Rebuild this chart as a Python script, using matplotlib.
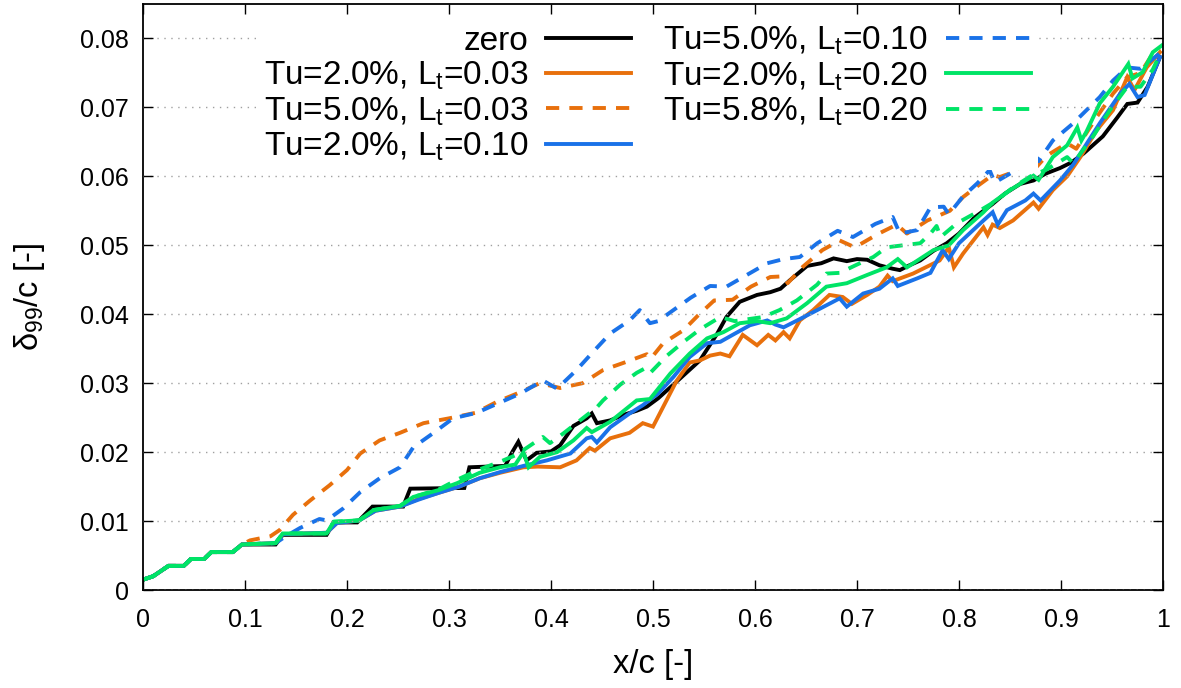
import matplotlib
matplotlib.use("Agg")
import matplotlib.pyplot as plt
import numpy as np

plt.rcParams['font.family'] = ['Liberation Sans', 'DejaVu Sans']
plt.rcParams['mathtext.fontset'] = 'custom'
plt.rcParams['mathtext.rm'] = 'Liberation Sans'
plt.rcParams['mathtext.it'] = 'Liberation Sans'
plt.rcParams['mathtext.bf'] = 'Liberation Sans:bold'

# ---------------- data ----------------
lead_x = [0.000, 0.010, 0.025, 0.040, 0.047, 0.060, 0.067, 0.088, 0.097]
lead_y = [0.0015, 0.0020, 0.0035, 0.0035, 0.0045, 0.0045, 0.0055, 0.0055, 0.0066]

zero_x = [0.130, 0.137, 0.180, 0.187, 0.210, 0.225, 0.255, 0.262, 0.315, 0.320,
          0.355, 0.362, 0.368, 0.376, 0.386, 0.400, 0.409, 0.422, 0.435, 0.440,
          0.445, 0.458, 0.471, 0.484, 0.494, 0.505, 0.523, 0.546, 0.563, 0.572,
          0.585, 0.602, 0.615, 0.625, 0.634, 0.651, 0.665, 0.677, 0.690, 0.700,
          0.710, 0.722, 0.735, 0.742, 0.750, 0.762, 0.775, 0.788, 0.800, 0.815,
          0.833, 0.845, 0.860, 0.873, 0.885, 0.899, 0.910, 0.922, 0.941, 0.955,
          0.965, 0.975, 0.985, 0.997]
zero_y = [0.0066, 0.0080, 0.0080, 0.0098, 0.0098, 0.0121, 0.0121, 0.0147, 0.0148, 0.0178,
          0.0180, 0.0200, 0.0215, 0.0188, 0.0199, 0.0201, 0.0210, 0.0238, 0.0249, 0.0256,
          0.0242, 0.0246, 0.0254, 0.0260, 0.0266, 0.0278, 0.0302, 0.0333, 0.0372, 0.0396,
          0.0418, 0.0428, 0.0432, 0.0437, 0.0449, 0.0470, 0.0474, 0.0481, 0.0477, 0.0480,
          0.0479, 0.0471, 0.0466, 0.0464, 0.0470, 0.0478, 0.0492, 0.0503, 0.0517, 0.0540,
          0.0560, 0.0575, 0.0589, 0.0594, 0.0604, 0.0612, 0.0620, 0.0633, 0.0658, 0.0685,
          0.0705, 0.0707, 0.0730, 0.0773]

tu2_lt003_x = [0.130, 0.137, 0.180, 0.190, 0.212, 0.228, 0.252, 0.270, 0.290, 0.310,
               0.330, 0.350, 0.373, 0.387, 0.409, 0.425, 0.438, 0.443, 0.458, 0.477,
               0.490, 0.500, 0.523, 0.536, 0.546, 0.556, 0.566, 0.575, 0.588, 0.602,
               0.613, 0.620, 0.628, 0.634, 0.644, 0.657, 0.673, 0.686, 0.695, 0.710,
               0.722, 0.730, 0.735, 0.755, 0.781, 0.790, 0.795, 0.804, 0.824, 0.828,
               0.833, 0.840, 0.853, 0.873, 0.878, 0.892, 0.906, 0.919, 0.935, 0.951,
               0.965, 0.972, 0.984, 0.997]
tu2_lt003_y = [0.0068, 0.0081, 0.0083, 0.0097, 0.0101, 0.0115, 0.0121, 0.0132, 0.0141, 0.0150,
               0.0162, 0.0170, 0.0178, 0.0179, 0.0178, 0.0188, 0.0206, 0.0202, 0.0220, 0.0228,
               0.0242, 0.0237, 0.0303, 0.0330, 0.0333, 0.0340, 0.0343, 0.0339, 0.0370, 0.0355,
               0.0370, 0.0362, 0.0374, 0.0365, 0.0391, 0.0406, 0.0428, 0.0425, 0.0415, 0.0428,
               0.0440, 0.0456, 0.0448, 0.0459, 0.0478, 0.0497, 0.0468, 0.0488, 0.0526, 0.0515,
               0.0530, 0.0525, 0.0536, 0.0562, 0.0553, 0.0580, 0.0600, 0.0628, 0.0667, 0.0696,
               0.0744, 0.0725, 0.0758, 0.0780]

tu5_lt003_x = [0.105, 0.125, 0.134, 0.147, 0.164, 0.183, 0.200, 0.213, 0.232, 0.252,
               0.275, 0.300, 0.326, 0.347, 0.370, 0.389, 0.409, 0.431, 0.451, 0.474,
               0.494, 0.498, 0.510, 0.530, 0.544, 0.560, 0.578, 0.596, 0.615, 0.628,
               0.632, 0.647, 0.666, 0.683, 0.698, 0.720, 0.739, 0.749, 0.769, 0.791,
               0.804, 0.820, 0.833, 0.840, 0.853, 0.870, 0.875, 0.886, 0.906, 0.915,
               0.935, 0.951, 0.965, 0.978, 0.990, 0.998]
tu5_lt003_y = [0.0072, 0.0078, 0.0087, 0.0109, 0.0130, 0.0152, 0.0174, 0.0198, 0.0217, 0.0228,
               0.0242, 0.0249, 0.0257, 0.0273, 0.0287, 0.0300, 0.0293, 0.0300, 0.0319, 0.0331,
               0.0342, 0.0336, 0.0358, 0.0377, 0.0398, 0.0420, 0.0421, 0.0440, 0.0454, 0.0455,
               0.0445, 0.0469, 0.0493, 0.0507, 0.0497, 0.0516, 0.0530, 0.0517, 0.0536, 0.0550,
               0.0570, 0.0588, 0.0602, 0.0599, 0.0606, 0.0625, 0.0612, 0.0630, 0.0648, 0.0640,
               0.0686, 0.0720, 0.0744, 0.0750, 0.0778, 0.0782]

tu2_lt010_x = [0.130, 0.137, 0.180, 0.190, 0.212, 0.228, 0.252, 0.270, 0.290, 0.310,
               0.330, 0.350, 0.373, 0.396, 0.419, 0.435, 0.440, 0.445, 0.458, 0.477,
               0.490, 0.505, 0.520, 0.536, 0.553, 0.566, 0.578, 0.595, 0.612, 0.620,
               0.628, 0.644, 0.661, 0.683, 0.690, 0.706, 0.722, 0.735, 0.740, 0.759,
               0.772, 0.784, 0.790, 0.800, 0.824, 0.833, 0.838, 0.847, 0.865, 0.873,
               0.880, 0.899, 0.912, 0.919, 0.938, 0.958, 0.967, 0.975, 0.982, 0.997]
tu2_lt010_y = [0.0068, 0.0081, 0.0083, 0.0097, 0.0101, 0.0115, 0.0121, 0.0131, 0.0141, 0.0150,
               0.0162, 0.0171, 0.0180, 0.0188, 0.0198, 0.0220, 0.0222, 0.0214, 0.0236, 0.0256,
               0.0268, 0.0285, 0.0309, 0.0338, 0.0358, 0.0360, 0.0370, 0.0384, 0.0391, 0.0385,
               0.0381, 0.0393, 0.0406, 0.0423, 0.0411, 0.0430, 0.0437, 0.0452, 0.0441, 0.0452,
               0.0460, 0.0493, 0.0480, 0.0503, 0.0536, 0.0548, 0.0530, 0.0551, 0.0565, 0.0575,
               0.0565, 0.0594, 0.0617, 0.0633, 0.0677, 0.0720, 0.0734, 0.0715, 0.0718, 0.0773]

tu5_lt010_x = [0.130, 0.140, 0.154, 0.173, 0.180, 0.196, 0.213, 0.232, 0.252, 0.265,
               0.284, 0.304, 0.327, 0.347, 0.370, 0.392, 0.406, 0.425, 0.441, 0.458,
               0.477, 0.487, 0.497, 0.505, 0.520, 0.537, 0.556, 0.572, 0.592, 0.612,
               0.628, 0.644, 0.661, 0.681, 0.696, 0.718, 0.735, 0.742, 0.759, 0.772,
               0.785, 0.790, 0.804, 0.818, 0.830, 0.835, 0.857, 0.873, 0.878, 0.892,
               0.912, 0.938, 0.951, 0.965, 0.978, 0.998]
tu5_lt010_y = [0.0068, 0.0078, 0.0090, 0.0103, 0.0101, 0.0118, 0.0142, 0.0162, 0.0178, 0.0207,
               0.0227, 0.0249, 0.0257, 0.0270, 0.0285, 0.0304, 0.0292, 0.0319, 0.0345, 0.0372,
               0.0391, 0.0406, 0.0387, 0.0390, 0.0406, 0.0424, 0.0441, 0.0440, 0.0457, 0.0474,
               0.0480, 0.0483, 0.0503, 0.0521, 0.0512, 0.0531, 0.0541, 0.0517, 0.0522, 0.0555,
               0.0556, 0.0545, 0.0571, 0.0590, 0.0609, 0.0591, 0.0610, 0.0636, 0.0622, 0.0652,
               0.0677, 0.0715, 0.0739, 0.0758, 0.0756, 0.0780]

tu2_lt020_x = [0.130, 0.137, 0.180, 0.187, 0.212, 0.226, 0.252, 0.265, 0.290, 0.308,
               0.330, 0.350, 0.365, 0.373, 0.378, 0.389, 0.406, 0.422, 0.435, 0.440,
               0.458, 0.484, 0.497, 0.517, 0.536, 0.553, 0.569, 0.585, 0.602, 0.615,
               0.631, 0.651, 0.670, 0.690, 0.710, 0.729, 0.740, 0.749, 0.775, 0.790,
               0.804, 0.824, 0.833, 0.850, 0.873, 0.878, 0.892, 0.906, 0.916, 0.920,
               0.925, 0.938, 0.951, 0.966, 0.970, 0.980, 0.990, 0.999]
tu2_lt020_y = [0.0068, 0.0082, 0.0082, 0.0099, 0.0101, 0.0116, 0.0122, 0.0135, 0.0145, 0.0155,
               0.0170, 0.0178, 0.0182, 0.0200, 0.0178, 0.0193, 0.0200, 0.0217, 0.0235, 0.0229,
               0.0244, 0.0275, 0.0277, 0.0314, 0.0343, 0.0365, 0.0374, 0.0387, 0.0390, 0.0387,
               0.0394, 0.0416, 0.0440, 0.0445, 0.0457, 0.0468, 0.0480, 0.0468, 0.0493, 0.0500,
               0.0522, 0.0548, 0.0562, 0.0580, 0.0601, 0.0595, 0.0628, 0.0645, 0.0671, 0.0652,
               0.0665, 0.0706, 0.0730, 0.0763, 0.0742, 0.0751, 0.0780, 0.0790]

tu58_lt020_x = [0.130, 0.137, 0.180, 0.187, 0.212, 0.226, 0.252, 0.265, 0.290, 0.308,
                0.330, 0.350, 0.366, 0.376, 0.392, 0.399, 0.412, 0.425, 0.445, 0.451,
                0.468, 0.484, 0.494, 0.498, 0.513, 0.530, 0.546, 0.566, 0.580, 0.608,
                0.624, 0.641, 0.661, 0.670, 0.683, 0.700, 0.716, 0.729, 0.745, 0.762,
                0.772, 0.778, 0.782, 0.798, 0.820, 0.837, 0.853, 0.870, 0.886, 0.906,
                0.912, 0.931, 0.948, 0.965, 0.978, 0.990, 0.998]
tu58_lt020_y = [0.0068, 0.0082, 0.0082, 0.0099, 0.0101, 0.0116, 0.0122, 0.0135, 0.0146, 0.0160,
                0.0175, 0.0186, 0.0196, 0.0206, 0.0222, 0.0213, 0.0227, 0.0242, 0.0265, 0.0275,
                0.0298, 0.0315, 0.0323, 0.0316, 0.0339, 0.0360, 0.0378, 0.0396, 0.0390, 0.0396,
                0.0406, 0.0420, 0.0443, 0.0459, 0.0460, 0.0472, 0.0483, 0.0497, 0.0500, 0.0503,
                0.0517, 0.0528, 0.0512, 0.0532, 0.0550, 0.0565, 0.0584, 0.0600, 0.0610, 0.0628,
                0.0619, 0.0657, 0.0696, 0.0730, 0.0730, 0.0755, 0.0780]

labels = ['zero',
          'Tu=2.0%, L$_{t}$=0.03',
          'Tu=5.0%, L$_{t}$=0.03',
          'Tu=2.0%, L$_{t}$=0.10',
          'Tu=5.0%, L$_{t}$=0.10',
          'Tu=2.0%, L$_{t}$=0.20',
          'Tu=5.8%, L$_{t}$=0.20']
xticks = [0, 0.1, 0.2, 0.3, 0.4, 0.5, 0.6, 0.7, 0.8, 0.9, 1]
xtick_labels = ['0', '0.1', '0.2', '0.3', '0.4', '0.5', '0.6', '0.7', '0.8', '0.9', '1']
yticks = [0, 0.01, 0.02, 0.03, 0.04, 0.05, 0.06, 0.07, 0.08]
ytick_labels = ['0', '0.01', '0.02', '0.03', '0.04', '0.05', '0.06', '0.07', '0.08']

# ---------------- styling ----------------
BLACK = '#000000'
ORANGE = '#e8700c'
BLUE = '#1a72e8'
GREEN = '#00e466'
DASH = (0, (3.4, 2.6))

series = [
    (zero_x, zero_y, BLACK, '-'),
    (tu2_lt003_x, tu2_lt003_y, ORANGE, '-'),
    (tu5_lt003_x, tu5_lt003_y, ORANGE, DASH),
    (tu2_lt010_x, tu2_lt010_y, BLUE, '-'),
    (tu5_lt010_x, tu5_lt010_y, BLUE, DASH),
    (tu2_lt020_x, tu2_lt020_y, GREEN, '-'),
    (tu58_lt020_x, tu58_lt020_y, GREEN, DASH),
]

fig = plt.figure(figsize=(11.81, 6.88), dpi=100)
ax = fig.add_axes([143 / 1181, 98 / 688, 1020 / 1181, 586 / 688])

for (sx, sy, col, ls), lab in zip(series, labels):
    ax.plot(lead_x + sx, lead_y + sy, color=col, linestyle=ls, lw=2.8,
            label=lab, solid_joinstyle='miter', dash_capstyle='butt')

ax.set_xlim(0, 1)
ax.set_ylim(0, 0.085)
ax.set_xticks(xticks)
ax.set_xticklabels(xtick_labels)
ax.set_yticks(yticks)
ax.set_yticklabels(ytick_labels)
ax.tick_params(direction='in', length=7.5, width=1.0, top=True, right=True,
               labelsize=18, colors='black')
ax.tick_params(axis='x', pad=13)
ax.tick_params(axis='y', pad=10)
ax.yaxis.grid(True, linestyle=(0, (1, 4)), color='#a0a0a0', lw=1.0)
ax.set_axisbelow(False)
for sp in ax.spines.values():
    sp.set_linewidth(1.3)

ax.set_xlabel('x/c [-]', fontsize=23.5, labelpad=12)
ax.set_ylabel('δ$_{99}$/c [-]', fontsize=23.5, labelpad=24)

leg = ax.legend(loc='upper right', bbox_to_anchor=(0.877, 0.976), ncol=2,
                markerfirst=False, fontsize=24, handlelength=2.56,
                handletextpad=0.53, columnspacing=0.97, labelspacing=0.09,
                borderpad=0.2, borderaxespad=0.0, frameon=True, fancybox=False)
leg.get_frame().set_facecolor('white')
leg.get_frame().set_edgecolor('none')
leg.get_frame().set_alpha(1.0)

fig.savefig('out.png', dpi=100)
